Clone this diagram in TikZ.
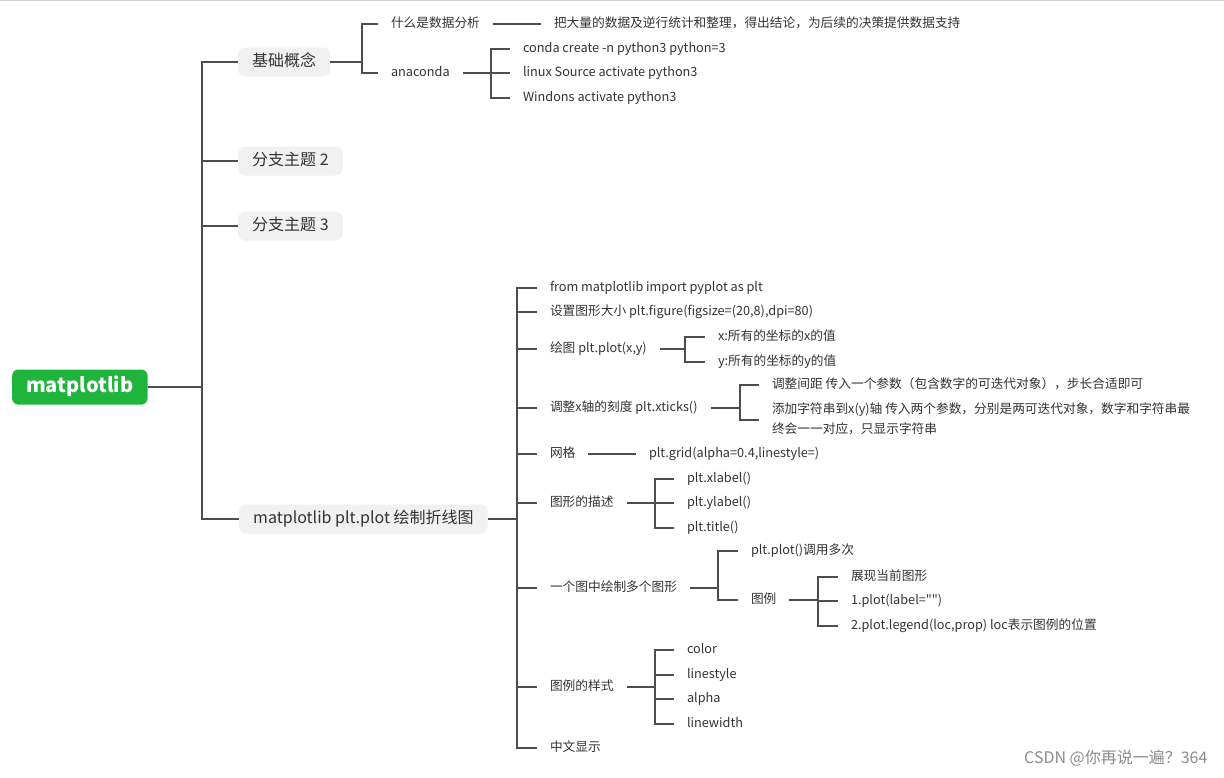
\documentclass[tikz,border=0pt]{standalone}
\usepackage{fontspec}
\setmainfont{Noto Sans CJK SC}[Ligatures=TeXOff]
\definecolor{linec}{HTML}{4D4D4D}
\definecolor{txtc}{HTML}{333333}
\definecolor{boxc}{HTML}{F1F1F1}
\definecolor{rootc}{HTML}{1FB53C}
\definecolor{wmc}{HTML}{8C8C8C}
\begin{document}
\begin{tikzpicture}[x=1pt,y=-1pt,
  conn/.style={draw=linec, line width=1.8pt, line join=miter},
  leaf/.style={anchor=west, inner xsep=0pt, inner ysep=2pt, outer xsep=13pt,
    text height=9pt, text depth=3pt, align=left,
    font=\fontsize{12.7}{20}\selectfont, text=txtc},
  topic/.style={anchor=west, fill=boxc, rounded corners=7pt, inner xsep=14pt,
    minimum height=29pt, text height=12pt, text depth=3pt,
    font=\fontsize{16}{19}\selectfont, text=txtc},
  rootbox/.style={anchor=west, fill=rootc, rounded corners=6pt, inner xsep=14pt,
    minimum height=35pt, text height=14pt, text depth=4pt,
    font=\fontsize{20}{23}\selectfont\bfseries, text=white},
  wmark/.style={anchor=east, font=\fontsize{16}{19}\selectfont, text=wmc}]
\fill[white] (0,0) rectangle (1224,777);
\useasboundingbox (0,0) rectangle (1224,777);
\draw[black!18, line width=1pt] (0,0.5) -- (1224,0.5);

% root and main topics
\node[rootbox] (root) at (12,387) {matplotlib};
\node[topic] (t1) at (238,62) {基础概念};
\node[topic] (t2) at (238,161) {分支主题 2};
\node[topic] (t3) at (238,226) {分支主题 3};
\node[topic] (t4) at (239,519) {matplotlib plt.plot 绘制折线图};

\coordinate (j0) at (202,0);
\draw[conn] (root.east) -- (root.east -| j0);
\draw[conn] (t1.west) -- (t1.west -| j0) -- (t4.west -| j0) -- (t4.west);
\draw[conn] (t2.west -| j0) -- (t2.west);
\draw[conn] (t3.west -| j0) -- (t3.west);

% 基础概念
\node[leaf] (a1) at (378,24) {什么是数据分析};
\node[leaf] (a2) at (378,73) {anaconda};
\coordinate (j1) at (362,0);
\draw[conn] (t1.east) -- (t1.east -| j1);
\draw[conn] (a1.west) -- (a1.west -| j1) -- (a2.west -| j1) -- (a2.west);

\node[leaf] (a11) at (541,24) {把大量的数据及逆行统计和整理，得出结论，为后续的决策提供数据支持};
\draw[conn] (a1.east) -- (a11.west);

\node[leaf] (b1) at (510,49) {conda create -n python3 python=3};
\node[leaf] (b2) at (510,73) {linux Source activate python3};
\node[leaf] (b3) at (510,98) {Windons activate python3};
\coordinate (j2) at (491,0);
\draw[conn] (a2.east) -- (a2.east -| j2);
\draw[conn] (b1.west) -- (b1.west -| j2) -- (b3.west -| j2) -- (b3.west);
\draw[conn] (b2.west -| j2) -- (b2.west);

% matplotlib plt.plot
\node[leaf] (c1) at (537,288) {from matplotlib import pyplot as plt};
\node[leaf] (c2) at (537,312) {设置图形大小 plt.figure(figsize=(20,8),dpi=80)};
\node[leaf] (c3) at (537,349) {绘图 plt.plot(x,y)};
\node[leaf] (c4) at (537,408) {调整x轴的刻度 plt.xticks()};
\node[leaf] (c5) at (537,454) {网格};
\node[leaf] (c6) at (537,503) {图形的描述};
\node[leaf] (c7) at (537,588) {一个图中绘制多个图形};
\node[leaf] (c8) at (537,687) {图例的样式};
\node[leaf] (c9) at (537,748) {中文显示};
\coordinate (j3) at (517,0);
\draw[conn] (t4.east) -- (t4.east -| j3);
\draw[conn] (c1.west) -- (c1.west -| j3) -- (c9.west -| j3) -- (c9.west);
\foreach \n in {c2,c3,c4,c5,c6,c7,c8} \draw[conn] (\n.west -| j3) -- (\n.west);

% 绘图
\node[leaf] (d1) at (705,337) {x:所有的坐标的x的值};
\node[leaf] (d2) at (705,362) {y:所有的坐标的y的值};
\coordinate (j4) at (685,0);
\draw[conn] (c3.east) -- (c3.east -| j4);
\draw[conn] (d1.west) -- (d1.west -| j4) -- (d2.west -| j4) -- (d2.west);

% xticks
\node[leaf] (e1) at (759,385) {调整间距 传入一个参数（包含数字的可迭代对象），步长合适即可};
\node[leaf, text height=29pt, text depth=3pt] (e2) at (759,420) {添加字符串到x(y)轴 传入两个参数，分别是两可迭代对象，数字和字符串最\\终会一一对应，只显示字符串};
\coordinate (j5) at (740,0);
\draw[conn] (c4.east) -- (c4.east -| j5);
\draw[conn] (e1.west) -- (e1.west -| j5) -- (e2.west -| j5) -- (e2.west);

% 网格
\node[leaf] (f1) at (636,454) {plt.grid(alpha=0.4,linestyle=)};
\draw[conn] (c5.east) -- (f1.west);

% 图形的描述
\node[leaf] (g1) at (674,479) {plt.xlabel()};
\node[leaf] (g2) at (674,503) {plt.ylabel()};
\node[leaf] (g3) at (674,528) {plt.title()};
\coordinate (j6) at (655,0);
\draw[conn] (c6.east) -- (c6.east -| j6);
\draw[conn] (g1.west) -- (g1.west -| j6) -- (g3.west -| j6) -- (g3.west);
\draw[conn] (g2.west -| j6) -- (g2.west);

% 一个图中绘制多个图形
\node[leaf] (h1) at (738,551) {plt.plot()调用多次};
\node[leaf] (h2) at (738,600) {图例};
\coordinate (j7) at (718,0);
\draw[conn] (c7.east) -- (c7.east -| j7);
\draw[conn] (h1.west) -- (h1.west -| j7) -- (h2.west -| j7) -- (h2.west);

\node[leaf] (i1) at (838,577) {展现当前图形};
\node[leaf] (i2) at (838,601) {1.plot(label="")};
\node[leaf] (i3) at (838,626) {2.plot.legend(loc,prop) loc表示图例的位置};
\coordinate (j8) at (818,0);
\draw[conn] (h2.east) -- (h2.east -| j8);
\draw[conn] (i1.west) -- (i1.west -| j8) -- (i3.west -| j8) -- (i3.west);
\draw[conn] (i2.west -| j8) -- (i2.west);

% 图例的样式
\node[leaf] (k1) at (674,650) {color};
\node[leaf] (k2) at (674,675) {linestyle};
\node[leaf] (k3) at (674,699) {alpha};
\node[leaf] (k4) at (674,724) {linewidth};
\draw[conn] (c8.east) -- (c8.east -| j6);
\draw[conn] (k1.west) -- (k1.west -| j6) -- (k4.west -| j6) -- (k4.west);
\draw[conn] (k2.west -| j6) -- (k2.west);
\draw[conn] (k3.west -| j6) -- (k3.west);

% watermark
\node[wmark] (wm) at (1211,758) {CSDN @你再说一遍？364};
\end{tikzpicture}
\end{document}
